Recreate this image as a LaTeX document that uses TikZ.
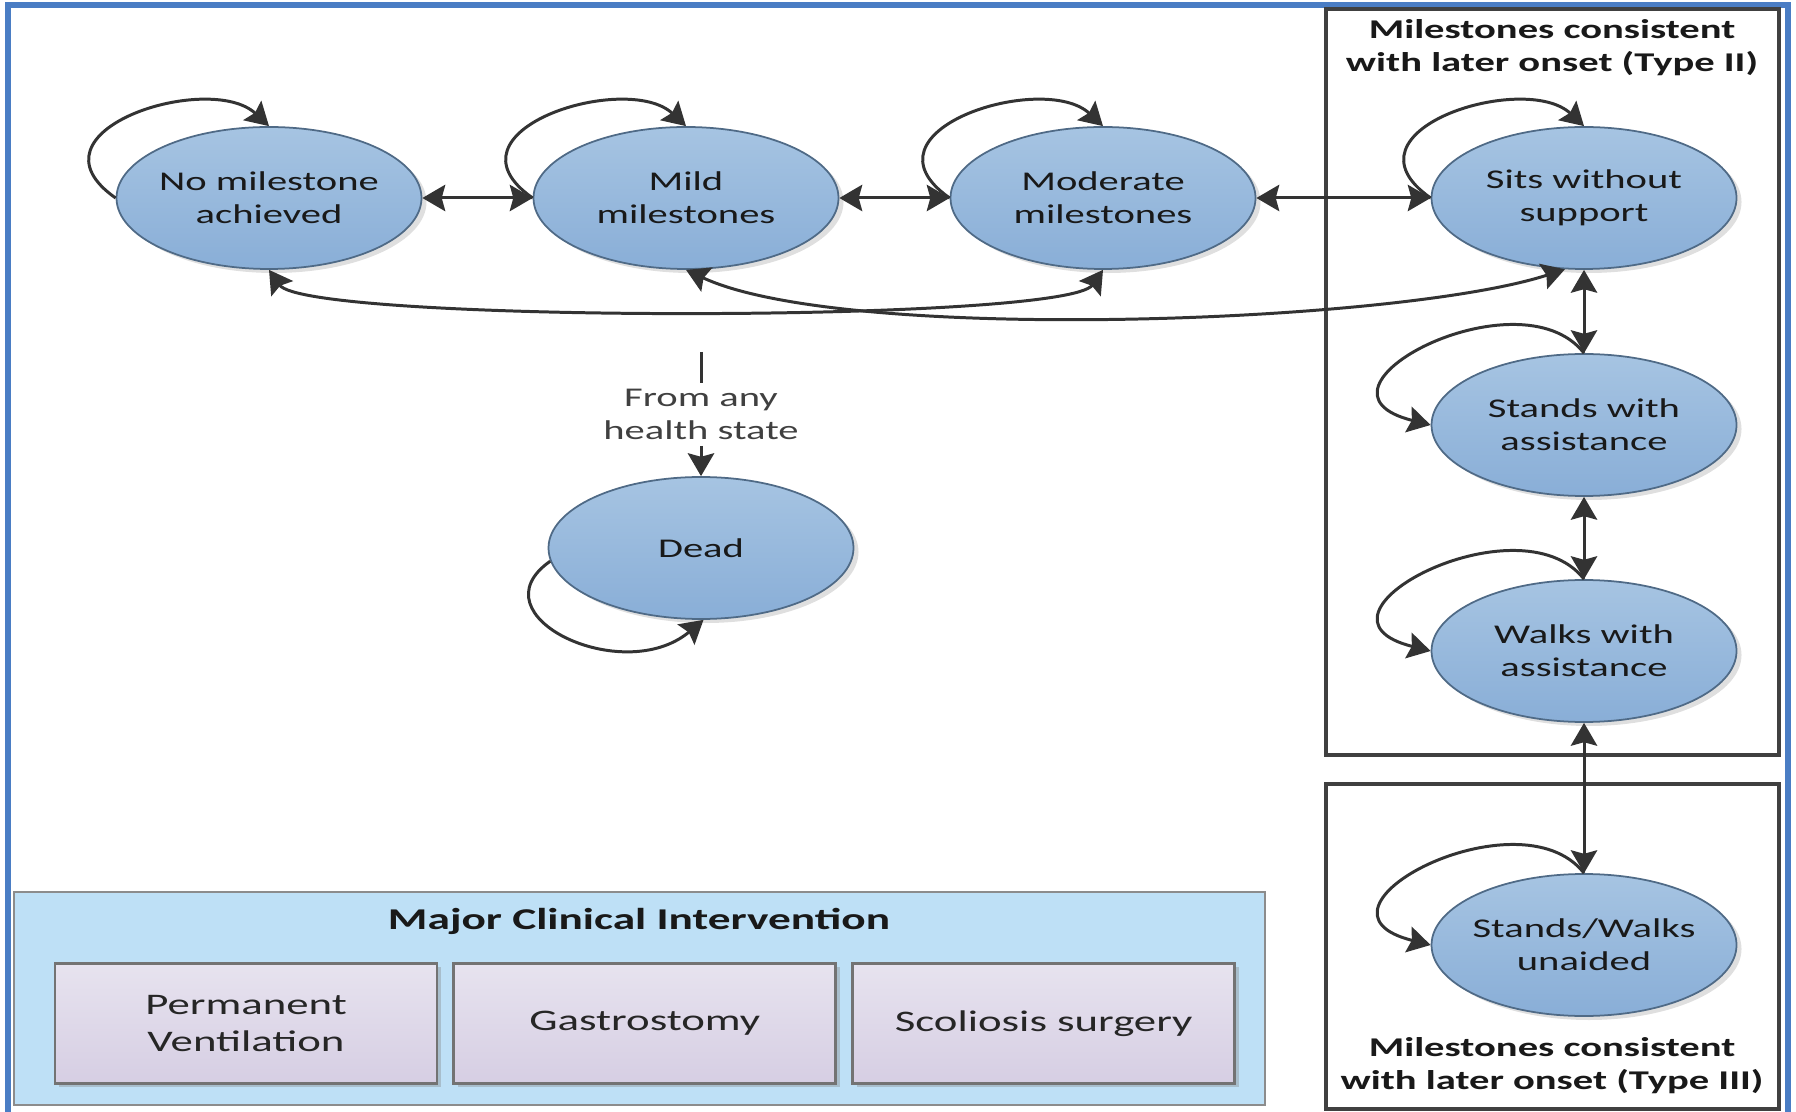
\documentclass[tikz,border=0pt]{standalone}
\usepackage{fontspec}
\setmainfont{Carlito}[FakeStretch=1.5]
\usetikzlibrary{arrows.meta,shapes.geometric,positioning,shadows}

\definecolor{frameblue}{HTML}{4A7DC4}
\definecolor{ovaltop}{HTML}{A6C4E2}
\definecolor{ovalbot}{HTML}{89AED7}
\definecolor{ovalline}{HTML}{4F6A86}
\definecolor{linegray}{HTML}{333333}
\definecolor{panelblue}{HTML}{BEE0F6}
\definecolor{boxtop}{HTML}{E7E3EF}
\definecolor{boxbot}{HTML}{D6CEE3}

\begin{document}
\begin{tikzpicture}[>={Stealth[length=6.5pt,width=7.5pt,inset=1pt]},node distance=4.17cm,
    flow/.style={<->,draw=linegray,line width=0.85pt},
    oneway/.style={->,draw=linegray,line width=0.85pt},
    hstate/.style={ellipse,draw=ovalline,line width=0.5pt,top color=ovaltop,bottom color=ovalbot,
      minimum width=3.05cm,minimum height=1.42cm,inner xsep=-0.1cm,inner ysep=0pt,align=center,
      text=black!90,font=\fontsize{7.7}{9.4}\selectfont,
      drop shadow={shadow xshift=0.05cm,shadow yshift=-0.04cm,opacity=0.25}},
    panel/.style={draw=black!75,line width=1.2pt,inner sep=0pt},
    paneltitle/.style={align=center,inner sep=0pt,text=black!90,font=\fontsize{7.7}{9.4}\selectfont\bfseries},
    mcibox/.style={draw=black!45,line width=0.8pt,fill=panelblue,inner sep=0pt},
    treat/.style={draw=black!55,line width=0.8pt,top color=boxtop,bottom color=boxbot,
      minimum width=3.82cm,minimum height=1.2cm,inner sep=0pt,align=center,
      text=black!85,font=\fontsize{8.5}{10.4}\selectfont,
      drop shadow={shadow xshift=0.04cm,shadow yshift=-0.04cm,opacity=0.35}},
    note/.style={align=center,inner sep=1.5pt,text=black!75,font=\fontsize{7.7}{9.4}\selectfont},
    selftop/.style={oneway,out=145,in=137,out distance=1.18cm,in distance=0.81cm},
    selfside/.style={oneway,out=128,in=166,out distance=1.05cm,in distance=1.45cm},
    selfbelow/.style={oneway,out=215,in=220,out distance=0.95cm,in distance=1.05cm}]
  \useasboundingbox (0,0) rectangle (17.96,11.11);
  \draw[frameblue,line width=1.7pt] (0.08,-0.2) -- (0.08,11.06) -- (17.88,11.06) -- (17.88,-0.2);

  % groups of milestones
  \node[panel,minimum width=4.53cm,minimum height=7.46cm] (typetwo) at (15.525,7.29) {};
  \node[panel,minimum width=4.53cm,minimum height=3.25cm] (typethree) at (15.525,1.645) {};
  \node[paneltitle] (typetwotitle) at (15.52,10.635) {Milestones consistent\\with later onset (Type II)};
  \node[paneltitle] (typethreetitle) at (15.52,0.455) {Milestones consistent\\with later onset (Type III)};

  % interventions
  \node[mcibox,minimum width=12.51cm,minimum height=2.13cm] (mci) at (6.395,1.125) {};
  \node[paneltitle,font=\fontsize{8.6}{10.4}\selectfont\bfseries] (mcititle) at (6.39,1.9) {Major Clinical Intervention};
  \node[treat] (vent) at (2.46,0.8775) {Permanent\\Ventilation};
  \node[treat,right=0.14cm of vent] (gastro) {Gastrostomy};
  \node[treat,right=0.14cm of gastro] (scol) {Scoliosis surgery};

  % health states
  \node[hstate] (no) at (2.69,9.13) {No milestone\\achieved};
  \node[hstate] (mild) [right of=no] {Mild\\milestones};
  \node[hstate] (mod) [right of=mild] {Moderate\\milestones};
  \node[hstate] (sits) [right of=mod,node distance=4.81cm] {Sits without\\support};
  \node[hstate] (stands) [below of=sits,node distance=2.27cm] {Stands with\\assistance};
  \node[hstate] (walks) [below of=stands,node distance=2.26cm] {Walks with\\assistance};
  \node[hstate] (unaided) [below of=walks,node distance=2.94cm] {Stands/Walks\\unaided};
  \node[hstate] (dead) at (7.01,5.63) {Dead};

  \node[note] (anystate) at (7.01,6.965) {From any\\health state};
  \coordinate (anytop) at (7.01,7.59);

  \path (no) edge[flow] (mild)
        (mild) edge[flow] (mod)
        (mod) edge[flow] (sits)
        (sits) edge[flow] (stands)
        (stands) edge[flow] (walks)
        (walks) edge[flow] (unaided)
        (no.south) edge[flow,out=-55,in=-125,distance=0.65cm] (mod.south)
        (mild.south) edge[flow,out=-25,in=-162,distance=1.75cm] (sits.255);

  \path (no.west) edge[selftop] (no.north)
        (mild.west) edge[selftop] (mild.north)
        (mod.west) edge[selftop] (mod.north)
        (sits.west) edge[selftop] (sits.north)
        (stands.north) edge[selfside] (stands.west)
        (walks.north) edge[selfside] (walks.west)
        (unaided.north) edge[selfside] (unaided.west)
        (dead.185) edge[selfbelow] (dead.272);

  \draw[flow,-] (anytop) -- (anystate);
  \draw[oneway] (anystate) -- (dead);
\end{tikzpicture}
\end{document}
